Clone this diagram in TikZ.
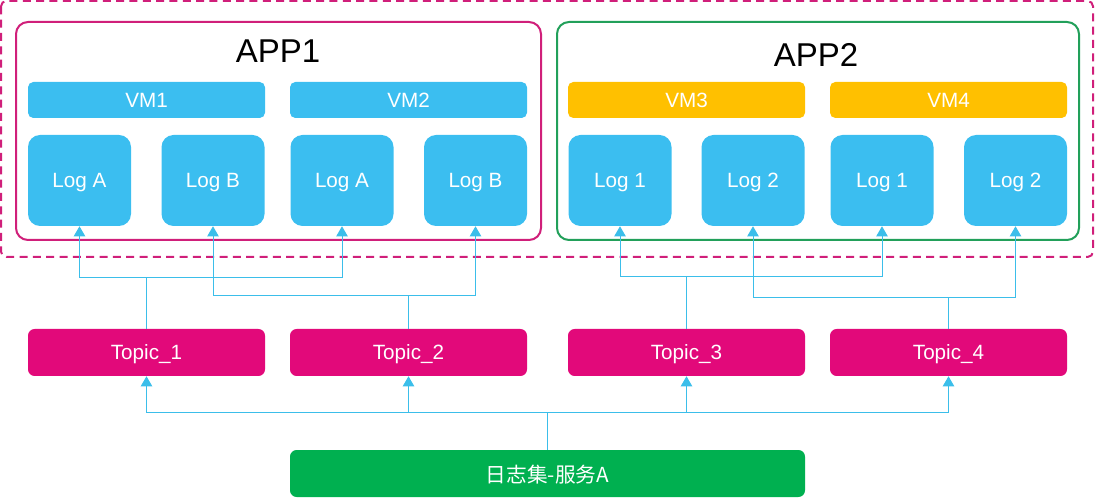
\documentclass[tikz,border=0pt]{standalone}
\usepackage{fontspec}
\setmainfont{Liberation Sans}
\newfontfamily\cjk{Noto Sans CJK SC}
\usetikzlibrary{arrows.meta}
\definecolor{logblue}{HTML}{3BBEF0}
\definecolor{vmyellow}{HTML}{FFC000}
\definecolor{topicpink}{HTML}{E2097A}
\definecolor{appred}{HTML}{D01F7A}
\definecolor{appgreen}{HTML}{22A05A}
\definecolor{basegreen}{HTML}{00B050}
\definecolor{linkblue}{HTML}{3BBEEA}
\tikzset{%
        box/.style = {inner sep=0pt, text=white, text depth=0pt,
                font=\fontsize{15.5}{18}\selectfont},
        vmbar/.style = {box, fill=logblue, rounded corners=4pt,
                minimum width=177.75pt, minimum height=27pt},
        logbox/.style = {box, fill=logblue, rounded corners=9pt,
                minimum width=77.25pt, minimum height=68.25pt},
        topic/.style = {box, fill=topicpink, rounded corners=5pt,
                minimum width=177.75pt, minimum height=35.25pt},
        appbox/.style = {draw, line width=1.5pt, rounded corners=9pt,
                minimum height=163.5pt, inner sep=0pt},
        title/.style = {font=\fontsize{24.75}{28}\selectfont},
        link/.style = {draw=linkblue, line width=0.75pt},
        arr/.style = {link, -{Triangle[width=8.5pt,length=7.5pt]}}
}

\begin{document}
\begin{tikzpicture}[x=0.75pt, y=-0.75pt]
        \useasboundingbox (0,0) rectangle (1095,498);
        % outer frame
        \draw[appred, line width=1.5pt, dash pattern=on 6pt off 4pt, rounded corners=4pt]
                (1,1) rectangle (1093,257);

        % applications
        \node[appbox, draw=appred, minimum width=393.75pt] (app1) at (278.5,131) {};
        \node[appbox, draw=appgreen, minimum width=391.5pt] (app2) at (818,131) {};
        \node[title] (n1) at (278,51) {APP1};
        \node[title] (n2) at (816,55) {APP2};

        \node[vmbar] (vm1) at (146.5,100) {VM1};
        \node[vmbar] (vm2) at (408.5,100) {VM2};
        \node[vmbar, fill=vmyellow] (vm3) at (686.5,100) {VM3};
        \node[vmbar, fill=vmyellow] (vm4) at (948.5,100) {VM4};

        \node[logbox] (la1) at (79.5,180.5) {Log A};
        \node[logbox] (lb1) at (213,180.5) {Log B};
        \node[logbox] (la2) at (342,180.5) {Log A};
        \node[logbox] (lb2) at (475.5,180.5) {Log B};
        \node[logbox] (l11) at (620,180.5) {Log 1};
        \node[logbox] (l21) at (753,180.5) {Log 2};
        \node[logbox] (l12) at (882,180.5) {Log 1};
        \node[logbox] (l22) at (1015.5,180.5) {Log 2};

        % topics
        \node[topic] (t1) at (146.5,352.5) {Topic\_1};
        \node[topic] (t2) at (408.5,352.5) {Topic\_2};
        \node[topic] (t3) at (686.5,352.5) {Topic\_3};
        \node[topic] (t4) at (948.5,352.5) {Topic\_4};

        \node[box, fill=basegreen, rounded corners=5pt, minimum width=386.25pt,
                minimum height=35.25pt] (src) at (547.5,473.5) {\cjk 日志集-服务A};

        % source to topics
        \coordinate (bus) at (src.north |- 0,413);
        \draw[link] (src.north) -- (bus);
        \foreach \t in {t1,t2,t3,t4}
                \draw[arr] (bus) -| (\t.south);

        % topics to logs
        \coordinate (j1) at (t1.north |- 0,278);
        \coordinate (j2) at (t2.north |- 0,296);
        \coordinate (j3) at (t3.north |- 0,277);
        \coordinate (j4) at (t4.north |- 0,298);
        \draw[link] (t1.north) -- (j1);
        \draw[link] (t2.north) -- (j2);
        \draw[link] (t3.north) -- (j3);
        \draw[link] (t4.north) -- (j4);
        \draw[arr] (j1) -| (la1.south);
        \draw[arr] (j1) -| (la2.south);
        \draw[arr] (j2) -| (lb1.south);
        \draw[arr] (j2) -| (lb2.south);
        \draw[arr] (j3) -| (l11.south);
        \draw[arr] (j3) -| (l12.south);
        \draw[arr] (j4) -| (l21.south);
        \draw[arr] (j4) -| (l22.south);
\end{tikzpicture}
\end{document}
